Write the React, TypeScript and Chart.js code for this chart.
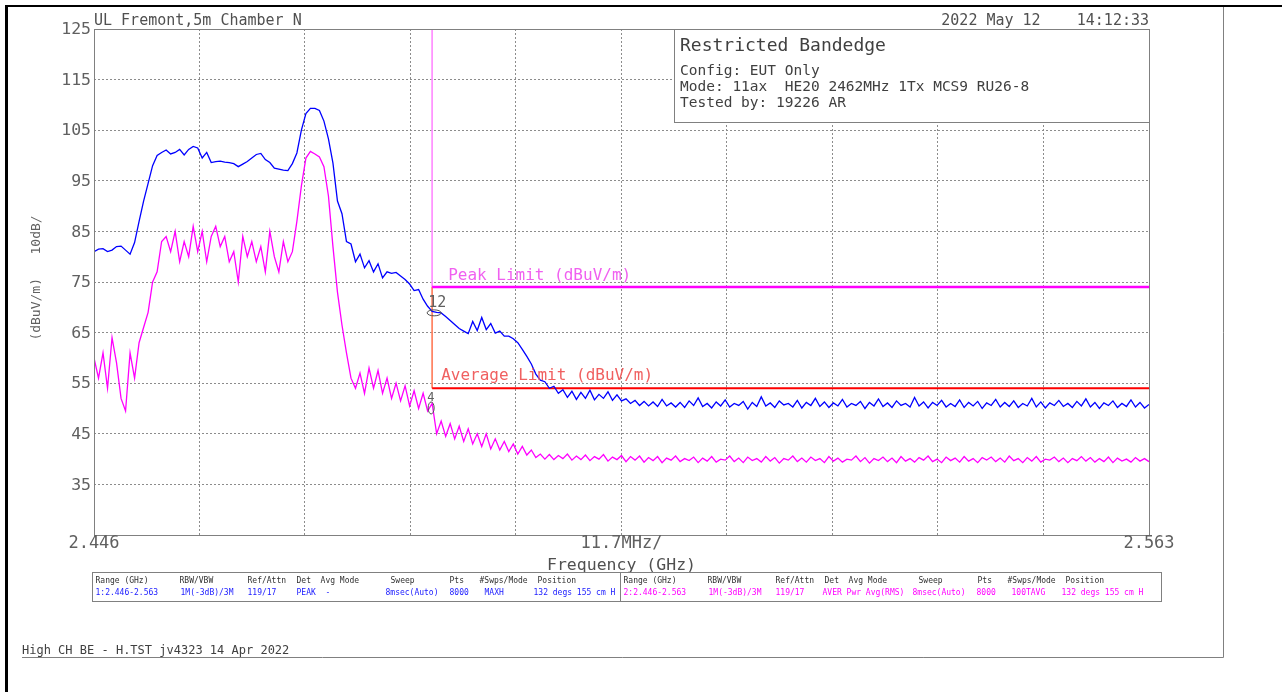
import { useEffect, useRef } from 'react';
import { Chart, registerables } from 'chart.js';

Chart.register(...registerables);

// ---- sweep definition ----
const START_GHZ = 2.446;
const STOP_GHZ = 2.563;
const POINT_STEP_GHZ = 0.0005;

// ---- axes ----
const xGridGHz = [2.446, 2.4577, 2.4694, 2.4811, 2.4928, 2.5045, 2.5162, 2.5279, 2.5396, 2.5513, 2.563];
const xTickLabels = ['2.446', '', '', '', '', '11.7MHz/', '', '', '', '', '2.563'];
const yGridDb = [25, 35, 45, 55, 65, 75, 85, 95, 105, 115, 125];
const yTickLabels = ['', '35', '45', '55', '65', '75', '85', '95', '105', '115', '125'];

// ---- trace 1: peak (MAXH) dBuV/m ----
const peakTrace = [
  81.0, 81.5, 81.6, 81.0, 81.3, 82.0, 82.1, 81.3, 80.5, 82.8,
  87.0, 91.0, 94.5, 98.0, 100.0, 100.6, 101.1, 100.3, 100.6, 101.2,
  100.1, 101.2, 101.8, 101.5, 99.5, 100.6, 98.6, 98.8, 98.9, 98.7,
  98.6, 98.4, 97.8, 98.3, 98.8, 99.5, 100.2, 100.4, 99.2, 98.6,
  97.5, 97.3, 97.1, 97.0, 98.4, 100.5, 105.0, 108.3, 109.3, 109.3,
  108.9, 106.8, 103.3, 98.5, 91.0, 88.5, 83.0, 82.5, 79.0, 80.5,
  77.8, 79.2, 77.0, 78.6, 75.8, 77.0, 76.7, 76.9, 76.2, 75.5,
  74.6, 73.3, 73.5, 71.6, 70.2, 69.2, 69.0, 68.9, 68.2, 67.4,
  66.6, 65.8, 65.3, 64.8, 67.2, 65.4, 68.0, 65.6, 66.8, 64.9,
  65.3, 64.3, 64.3, 63.8, 63.0, 61.7, 60.3, 58.8, 56.8, 55.6,
  55.3, 54.0, 54.4, 53.0, 53.7, 52.2, 53.4, 51.8, 53.2, 52.0,
  53.6, 51.7, 52.8, 52.0, 53.3, 51.6, 52.7, 51.5, 51.9, 51.0,
  51.6, 50.6, 51.4, 50.5, 51.3, 50.4, 51.8, 50.5, 51.1, 50.3,
  51.2, 50.2, 51.5, 50.6, 52.1, 50.4, 51.0, 50.1, 51.3, 50.5,
  51.7, 50.3, 51.0, 50.6, 51.4, 49.9, 51.2, 50.4, 52.3, 50.5,
  51.1, 50.2, 51.5, 50.7, 51.0, 50.3, 51.6, 50.1, 51.2, 50.6,
  52.0, 50.4, 51.3, 50.2, 51.1, 50.5, 51.8, 50.3, 51.0, 50.6,
  51.4, 50.0, 51.2, 50.5, 51.9, 50.4, 51.1, 50.2, 51.5, 50.6,
  51.0, 50.3, 52.2, 50.5, 51.3, 50.1, 51.2, 50.6, 51.6, 50.3,
  51.0, 50.4, 51.7, 50.2, 51.2, 50.5, 51.4, 50.0, 51.1, 50.6,
  51.8, 50.3, 51.2, 50.4, 51.5, 50.2, 51.0, 50.5, 52.0, 50.3,
  51.3, 50.1, 51.1, 50.6, 51.6, 50.4, 51.0, 50.2, 51.4, 50.5,
  51.9, 50.3, 51.2, 50.0, 51.1, 50.6, 51.5, 50.2, 51.0, 50.4,
  51.7, 50.3, 51.2, 50.1, 50.8,
];

// ---- trace 2: average (RMS) dBuV/m ----
const avgTrace = [
  60, 56, 61, 54, 64, 59, 52, 49.5, 61, 56,
  63, 66, 69, 75, 77, 83, 84, 81, 85, 79,
  83, 80, 86, 81, 85, 79, 84, 86, 82, 84,
  79, 81, 75, 84, 80, 83, 79, 82, 77, 85,
  80, 77, 83, 79, 81, 87, 94, 99.5, 100.8, 100.3,
  99.7, 97.8, 92, 82, 73, 66.5, 61, 56, 54, 57,
  53, 58, 54, 57.5, 53, 56, 52, 55, 51.5, 54.5,
  50.5, 53.5, 50, 53, 49.5, 51, 45, 47.5, 44.5, 47,
  44, 46.5, 43.5, 46, 43, 45, 42.5, 45, 42, 44,
  41.8, 43.5, 41.5, 43, 41, 42.5, 40.8, 41.8, 40.3, 41.0,
  40.0, 40.9, 39.9, 40.7, 40.1, 41.0, 39.8, 40.6, 39.9, 40.8,
  39.7, 40.5, 40.0, 40.9, 39.6, 40.4, 39.9, 40.7, 39.5, 40.5,
  39.8, 40.6, 39.4, 40.3, 39.7, 40.5, 39.3, 40.2, 39.8, 40.6,
  39.5, 40.1, 39.7, 40.4, 39.3, 40.2, 39.6, 40.5, 39.4, 40.0,
  39.8, 40.6, 39.5, 40.2, 39.3, 40.4, 39.7, 40.1, 39.4, 40.5,
  39.6, 40.3, 39.2, 40.1, 39.8, 40.6, 39.5, 40.2, 39.4, 40.4,
  39.7, 40.1, 39.3, 40.5, 39.6, 40.2, 39.4, 40.0, 39.8, 40.6,
  39.5, 40.3, 39.2, 40.1, 39.7, 40.4, 39.5, 40.2, 39.3, 40.5,
  39.6, 40.1, 39.4, 40.3, 39.8, 40.6, 39.5, 40.0, 39.3, 40.4,
  39.7, 40.2, 39.4, 40.5, 39.6, 40.1, 39.3, 40.3, 39.8, 40.4,
  39.5, 40.2, 39.4, 40.6, 39.7, 40.1, 39.3, 40.3, 39.6, 40.5,
  39.4, 40.0, 39.8, 40.4, 39.5, 40.2, 39.3, 40.1, 39.7, 40.5,
  39.6, 40.3, 39.4, 40.1, 39.5, 40.4, 39.3, 40.2, 39.6, 40.0,
  39.4, 40.3, 39.6, 40.1, 39.5,
];

// ---- limits and markers ----
const bandEdgeGHz = 2.4835;
const peakLimitDb = 74;
const avgLimitDb = 54;
const markerFreqGHz = [2.4835, 2.4835];
const markerLevelDb = [69.1, 50.5];
const markerLabels = ['12', '4'];

// ---- annotation text ----
const headerLeft = 'UL Fremont,5m Chamber N';
const headerRight = '2022 May 12    14:12:33';
const infoTitle = 'Restricted Bandedge';
const infoLines = ['Config: EUT Only', 'Mode: 11ax  HE20 2462MHz 1Tx MCS9 RU26-8', 'Tested by: 19226 AR'];
const footerText = 'High CH BE - H.TST jv4323 14 Apr 2022';
const tableHeaders = ['Range (GHz)', 'RBW/VBW', 'Ref/Attn', 'Det  Avg Mode', 'Sweep', 'Pts', '#Swps/Mode', 'Position'];
const trace1Settings = ['1:2.446-2.563', '1M(-3dB)/3M', '119/17', 'PEAK  -', '8msec(Auto)', '8000', 'MAXH', '132 degs 155 cm H'];
const trace2Settings = ['2:2.446-2.563', '1M(-3dB)/3M', '119/17', 'AVER Pwr Avg(RMS)', '8msec(Auto)', '8000', '100TAVG', '132 degs 155 cm H'];

const MONO = "'DejaVu Sans Mono', 'Liberation Mono', monospace";

function toPoints(values: number[]) {
  return values.map((y, i) => ({ x: START_GHZ + i * POINT_STEP_GHZ, y }));
}

function txt(ctx: CanvasRenderingContext2D, s: string, x: number, y: number, size: number, color: string,
  align: CanvasTextAlign = 'left', baseline: CanvasTextBaseline = 'alphabetic') {
  ctx.font = `${size}px ${MONO}`;
  ctx.fillStyle = color;
  ctx.textAlign = align;
  ctx.textBaseline = baseline;
  ctx.fillText(s, x, y);
}

const decorPlugin = {
  id: 'decor',
  afterDraw(chart: any) {
    const ctx: CanvasRenderingContext2D = chart.ctx;
    const { left, right, top, bottom } = chart.chartArea;
    const xs = chart.scales.x;
    const ys = chart.scales.y;
    ctx.save();

    // page frame
    ctx.fillStyle = '#000';
    ctx.fillRect(5, 5, 1277, 2);
    ctx.fillRect(5, 5, 3, 687);
    ctx.strokeStyle = '#808080';
    ctx.lineWidth = 1;
    ctx.beginPath();
    ctx.moveTo(1223.5, 7);
    ctx.lineTo(1223.5, 657.5);
    ctx.moveTo(22, 657.5);
    ctx.lineTo(1223.5, 657.5);
    ctx.stroke();

    // plot border
    ctx.strokeStyle = '#808080';
    ctx.strokeRect(Math.round(left) + 0.5, Math.round(top) + 0.5, Math.round(right - left), Math.round(bottom - top));

    // header
    txt(ctx, headerLeft, left, 25, 15, '#505050');
    txt(ctx, headerRight, right, 25, 15, '#505050', 'right');

    // info box
    const bx = 674;
    const by = Math.round(top) + 0.5;
    ctx.fillStyle = '#fff';
    ctx.fillRect(bx, by, Math.round(right) - bx, 93);
    ctx.strokeStyle = '#808080';
    ctx.strokeRect(bx + 0.5, by, Math.round(right) - bx, 93);
    txt(ctx, infoTitle, 680, 51, 18, '#404040');
    infoLines.forEach((l, i) => txt(ctx, l, 680, 75 + i * 16.2, 14.5, '#404040'));

    // y tick labels
    yGridDb.forEach((v, i) => {
      if (!yTickLabels[i]) return;
      txt(ctx, yTickLabels[i], left - 3, ys.getPixelForValue(v) + 1, 16.5, '#606060', 'right', 'middle');
    });
    // x tick labels
    xGridGHz.forEach((v, i) => {
      if (!xTickLabels[i]) return;
      txt(ctx, xTickLabels[i], xs.getPixelForValue(v), 544, 17, '#606060', 'center', 'middle');
    });
    txt(ctx, 'Frequency (GHz)', (left + right) / 2, 566, 16.5, '#505050', 'center', 'middle');

    // y title
    ctx.save();
    ctx.translate(37, 278);
    ctx.rotate(-Math.PI / 2);
    txt(ctx, '(dBuV/m)   10dB/', 0, 0, 13, '#606060', 'center', 'middle');
    ctx.restore();

    // limit labels
    const xe = xs.getPixelForValue(bandEdgeGHz);
    txt(ctx, 'Peak Limit (dBuV/m)', xe + 16, ys.getPixelForValue(peakLimitDb) - 7, 16, '#f060f0');
    txt(ctx, 'Average Limit (dBuV/m)', xe + 9, ys.getPixelForValue(avgLimitDb) - 8, 16, '#f06060');

    // markers
    markerFreqGHz.forEach((f, i) => {
      const mx = xs.getPixelForValue(f);
      const my = ys.getPixelForValue(markerLevelDb[i]);
      ctx.strokeStyle = '#505050';
      ctx.lineWidth = 1;
      ctx.beginPath();
      if (i === 0) {
        ctx.ellipse(mx + 2, my + 1, 7, 3, 0, 0, Math.PI * 2);
        ctx.stroke();
        txt(ctx, markerLabels[i], mx - 4, my - 5, 15, '#606060');
      } else {
        ctx.ellipse(mx - 1, my + 2, 3, 6, 0, 0, Math.PI * 2);
        ctx.stroke();
        txt(ctx, markerLabels[i], mx - 5, my - 5, 12, '#606060');
      }
    });

    // settings table
    const tTop = 572.5, tBot = 601.5, tL = 92.5, tMid = 620.5, tR = 1161.5;
    ctx.strokeStyle = '#808080';
    ctx.lineWidth = 1;
    ctx.strokeRect(tL, tTop, tR - tL, tBot - tTop);
    ctx.beginPath();
    ctx.moveTo(tMid, tTop);
    ctx.lineTo(tMid, tBot);
    ctx.stroke();
    const hOff = [3, 87, 155, 204, 298, 357, 387, 445];
    const vOff = [3, 88, 155, 204, 293, 357, 392, 441];
    const vOff2 = [3, 88, 155, 202, 292, 356, 391, 441];
    [tL, tMid].forEach((base, half) => {
      tableHeaders.forEach((h, i) => txt(ctx, h, base + hOff[i], 583, 8, '#303030'));
      const vals = half === 0 ? trace1Settings : trace2Settings;
      const offs = half === 0 ? vOff : vOff2;
      vals.forEach((v, i) => txt(ctx, v, base + offs[i], 595, 8, half === 0 ? '#2020ff' : '#ff00ff'));
    });

    // footer
    txt(ctx, footerText, 22, 654, 12, '#404040');

    ctx.restore();
  },
};

export default function App() {
  const ref = useRef<HTMLCanvasElement | null>(null);
  useEffect(() => {
    if (!ref.current) return;
    const chart = new Chart(ref.current, {
      type: 'line',
      data: {
        datasets: [
          {
            label: 'Trace 1 (Peak)',
            data: toPoints(peakTrace),
            borderColor: '#0000ff',
            borderWidth: 1.3,
            pointRadius: 0,
            tension: 0,
          },
          {
            label: 'Trace 2 (Average)',
            data: toPoints(avgTrace),
            borderColor: '#ff00ff',
            borderWidth: 1.3,
            pointRadius: 0,
            tension: 0,
          },
          {
            label: 'Peak Limit',
            data: [
              { x: bandEdgeGHz, y: 125 },
              { x: bandEdgeGHz, y: peakLimitDb },
              { x: STOP_GHZ, y: peakLimitDb },
            ],
            borderColor: '#ff00ff',
            borderWidth: 2,
            pointRadius: 0,
            segment: {
              borderColor: (c: any) => (c.p0DataIndex === 0 ? '#ff90ff' : '#ff00ff'),
              borderWidth: (c: any) => (c.p0DataIndex === 0 ? 1 : 2.5),
            },
          },
          {
            label: 'Average Limit',
            data: [
              { x: bandEdgeGHz, y: peakLimitDb },
              { x: bandEdgeGHz, y: avgLimitDb },
              { x: STOP_GHZ, y: avgLimitDb },
            ],
            borderColor: '#ff0000',
            borderWidth: 2,
            pointRadius: 0,
            segment: {
              borderColor: (c: any) => (c.p0DataIndex === 0 ? '#ff8060' : '#ff0000'),
              borderWidth: (c: any) => (c.p0DataIndex === 0 ? 1 : 2),
            },
          },
        ],
      },
      options: {
        animation: false,
        responsive: false,
        devicePixelRatio: 1,
        layout: { padding: { left: 94, top: 29, right: 133, bottom: 157 } },
        plugins: { legend: { display: false }, tooltip: { enabled: false }, title: { display: false } },
        scales: {
          x: {
            type: 'linear',
            min: START_GHZ,
            max: STOP_GHZ,
            afterBuildTicks: (s: any) => { s.ticks = xGridGHz.map((v) => ({ value: v })); },
            ticks: { display: false },
            grid: { color: '#8c8c8c', lineWidth: 1, drawTicks: false },
            border: { display: false, dash: [2, 2] },
          },
          y: {
            type: 'linear',
            min: 25,
            max: 125,
            afterBuildTicks: (s: any) => { s.ticks = yGridDb.map((v) => ({ value: v })); },
            ticks: { display: false },
            grid: { color: '#8c8c8c', lineWidth: 1, drawTicks: false },
            border: { display: false, dash: [2, 2] },
          },
        },
      } as any,
      plugins: [decorPlugin],
    });
    return () => chart.destroy();
  }, []);
  return (
    <div style={{ position: 'fixed', left: 0, top: 0, width: 1282, height: 692, background: '#fff' }}>
      <canvas ref={ref} width={1282} height={692} />
    </div>
  );
}
